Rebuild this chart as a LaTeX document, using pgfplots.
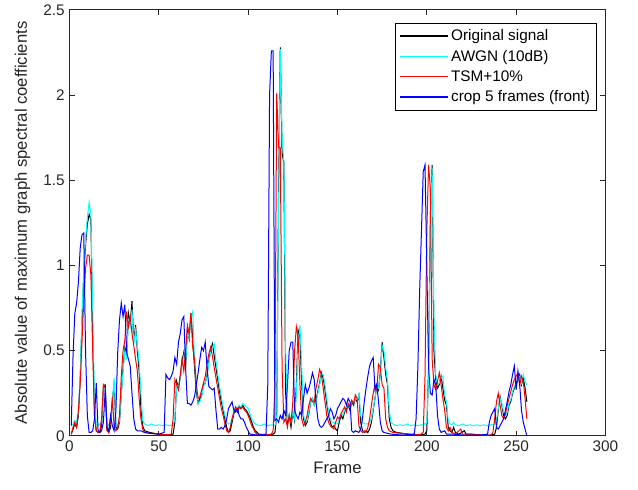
\documentclass[border=0pt]{standalone}
\usepackage{pgfplots}
\pgfplotsset{compat=1.18}
\usepackage{fontspec}
\setmainfont{Liberation Sans}
\definecolor{axgray}{rgb}{0.15,0.15,0.15}
\definecolor{mcyan}{rgb}{0,1,1}
\definecolor{mred}{rgb}{1,0,0}
\definecolor{mblue}{rgb}{0,0,1}
\begin{document}
\begin{tikzpicture}
\begin{axis}[
  name=ax,
  at={(0,0)}, anchor=south west,
  scale only axis,
  width=402pt, height=319.5pt,
  xmin=0, xmax=300, ymin=0, ymax=2.5,
  xtick={0,50,...,300},
  ytick={0,0.5,1,1.5,2,2.5},
  yticklabels={0,0.5,1,1.5,2,2.5},
  tick align=inside,
  major tick length=4pt,
  tick pos=both,
  axis line style={axgray, line width=0.6pt},
  tick style={axgray, line width=0.6pt},
  ticklabel style={font=\fontsize{11.5}{13}\selectfont, text=axgray},
  /pgf/number format/assume math mode=true,
  xlabel={Frame},
  ylabel={Absolute value of maximum graph spectral coefficients},
  label style={font=\fontsize{12.5}{14}\selectfont, text=axgray},
  xlabel style={yshift=-1pt},
  ylabel style={yshift=3pt},
  legend style={at={(1,1)}, anchor=north east, xshift=-6.4pt, yshift=-9.75pt,
    draw=black, font=\fontsize{11.5}{13}\selectfont,
    inner xsep=3pt, inner ysep=3pt, row sep=1.5pt, cells={anchor=west}},
  legend image code/.code={\draw[#1, line width=1pt] (0pt,0.3pt) -- (36pt,0.3pt);},
  every axis plot/.append style={line width=0.75pt},
]
% Original signal
\addplot[color=black] coordinates {
(1,0.01)(2,0.04)(3,0.07)(4,0.05)(5,0.12)(6,0.33)(7,0.66)(8,0.94)(9,1.12)(10,1.24)
(11,1.30)(12,1.27)(13,0.6)(14,0.12)(15,0.03)(16,0.02)(17,0.02)(18,0.06)(19,0.29)(20,0.30)
(21,0.04)(22,0.02)(23,0.05)(24,0.2)(25,0.31)(26,0.05)(27,0.04)(28,0.08)(29,0.25)(30,0.40)
(31,0.52)(32,0.47)(33,0.72)(34,0.66)(35,0.79)(36,0.55)(37,0.65)(38,0.50)(39,0.38)(40,0.16)
(41,0.06)(42,0.03)(45,0.02)(50,0.01)(55,0.005)(58,0.01)(59,0.08)(60,0.32)(61,0.28)(62,0.35)
(63,0.44)(64,0.49)(65,0.40)(66,0.62)(67,0.57)(68,0.72)(69,0.56)(70,0.40)(71,0.26)(72,0.19)
(73,0.22)(74,0.24)(75,0.30)(76,0.31)(77,0.36)(78,0.44)(79,0.50)(80,0.54)(81,0.47)(82,0.40)
(83,0.33)(84,0.26)(85,0.20)(86,0.15)(87,0.10)(88,0.05)(89,0.02)(90,0.03)(91,0.08)(92,0.13)
(93,0.16)(94,0.14)(95,0.17)(96,0.16)(97,0.18)(98,0.16)(99,0.15)(100,0.13)(101,0.11)(102,0.08)
(103,0.05)(104,0.03)(105,0.02)(106,0.01)(110,0.005)(114,0.01)(115,0.02)(116,0.12)(117,1.40)(118,2.28)
(119,1.66)(120,1.60)(121,0.25)(122,0.07)(123,0.12)(124,0.05)(125,0.14)(126,0.09)(127,0.30)(128,0.62)
(129,0.58)(130,0.30)(131,0.10)(132,0.06)(133,0.08)(134,0.13)(135,0.20)(136,0.22)(137,0.18)(138,0.21)
(139,0.26)(140,0.31)(141,0.37)(142,0.34)(143,0.27)(144,0.19)(145,0.12)(146,0.08)(147,0.05)(148,0.06)
(149,0.04)(150,0.03)(151,0.08)(152,0.12)(153,0.10)(154,0.14)(155,0.16)(156,0.18)(157,0.15)(158,0.20)
(159,0.18)(160,0.22)(161,0.20)(162,0.24)(163,0.08)(164,0.03)(165,0.02)(166,0.03)(167,0.02)(168,0.04)
(169,0.08)(170,0.15)(171,0.22)(172,0.30)(173,0.27)(174,0.38)(175,0.55)(176,0.46)(177,0.36)(178,0.30)
(179,0.10)(180,0.05)(181,0.03)(183,0.02)(190,0.01)(196,0.005)(199,0.01)(200,0.03)(201,0.40)(202,1.30)
(203,1.59)(204,0.50)(205,0.33)(206,0.28)(207,0.30)(208,0.35)(209,0.28)(210,0.21)(211,0.18)(212,0.05)
(213,0.03)(214,0.02)(215,0.05)(216,0.02)(218,0.01)(221,0.03)(222,0.01)(225,0.01)(230,0.005)(236,0.005)
(238,0.01)(239,0.05)(240,0.15)(241,0.23)(242,0.18)(243,0.12)(244,0.10)(245,0.12)(246,0.18)(247,0.20)
(248,0.25)(249,0.28)(250,0.30)(251,0.33)(252,0.36)(253,0.30)(254,0.34)(255,0.28)(256,0.20)
};
\addlegendentry{Original signal}
% AWGN
\addplot[color=mcyan] coordinates {
(1,0.06)(2,0.07)(3,0.09)(4,0.08)(5,0.14)(6,0.36)(7,0.70)(8,0.98)(9,1.15)(10,1.28)
(11,1.37)(12,1.30)(13,0.75)(14,0.2)(15,0.07)(16,0.06)(17,0.07)(18,0.08)(19,0.28)(20,0.27)
(21,0.08)(22,0.06)(23,0.07)(24,0.18)(25,0.34)(26,0.08)(27,0.06)(28,0.09)(29,0.24)(30,0.38)
(31,0.50)(32,0.46)(33,0.68)(34,0.64)(35,0.74)(36,0.54)(37,0.62)(38,0.53)(39,0.43)(40,0.25)
(41,0.09)(42,0.07)(43,0.065)(44,0.06)(46,0.07)(48,0.06)(50,0.065)(52,0.06)(54,0.065)(56,0.06)
(58,0.065)(59,0.10)(60,0.30)(61,0.29)(62,0.33)(63,0.42)(64,0.47)(65,0.42)(66,0.60)(67,0.58)
(68,0.70)(69,0.73)(70,0.45)(71,0.30)(72,0.19)(73,0.20)(74,0.23)(75,0.29)(76,0.31)(77,0.35)
(78,0.43)(79,0.49)(80,0.52)(81,0.54)(82,0.44)(83,0.36)(84,0.29)(85,0.23)(86,0.17)(87,0.12)
(88,0.08)(89,0.07)(90,0.07)(91,0.10)(92,0.14)(93,0.17)(94,0.16)(95,0.18)(96,0.17)(97,0.19)
(98,0.18)(99,0.17)(100,0.16)(101,0.13)(102,0.10)(103,0.08)(104,0.07)(105,0.065)(107,0.06)(109,0.07)
(111,0.06)(113,0.065)(115,0.06)(116,0.10)(117,1.30)(118,2.27)(119,1.75)(120,1.61)(121,0.50)(122,0.10)
(123,0.13)(124,0.08)(125,0.14)(126,0.10)(127,0.25)(128,0.55)(129,0.65)(130,0.40)(131,0.12)(132,0.08)
(133,0.09)(134,0.14)(135,0.20)(136,0.22)(137,0.18)(138,0.20)(139,0.25)(140,0.30)(141,0.36)(142,0.36)
(143,0.30)(144,0.22)(145,0.14)(146,0.10)(147,0.08)(148,0.08)(149,0.07)(150,0.07)(151,0.10)(152,0.13)
(153,0.12)(154,0.15)(155,0.17)(156,0.18)(157,0.17)(158,0.20)(159,0.19)(160,0.22)(161,0.21)(162,0.24)
(163,0.12)(164,0.08)(165,0.07)(166,0.07)(167,0.07)(168,0.08)(169,0.10)(170,0.16)(171,0.22)(172,0.29)
(173,0.28)(174,0.36)(175,0.53)(176,0.50)(177,0.40)(178,0.32)(179,0.15)(180,0.08)(181,0.07)(183,0.06)
(185,0.065)(187,0.06)(189,0.07)(191,0.06)(193,0.065)(195,0.06)(197,0.065)(199,0.07)(200,0.08)(201,0.35)
(202,1.20)(203,1.57)(204,0.70)(205,0.36)(206,0.30)(207,0.31)(208,0.34)(209,0.35)(210,0.24)(211,0.20)
(212,0.09)(213,0.07)(214,0.065)(215,0.08)(216,0.065)(218,0.06)(220,0.07)(222,0.06)(224,0.065)(226,0.06)
(228,0.065)(230,0.06)(232,0.065)(234,0.06)(236,0.065)(238,0.07)(239,0.09)(240,0.16)(241,0.22)(242,0.19)
(243,0.14)(244,0.12)(245,0.14)(246,0.19)(247,0.21)(248,0.26)(249,0.29)(250,0.31)(251,0.34)(252,0.35)
(253,0.31)(254,0.36)(255,0.32)(256,0.30)
};
\addlegendentry{AWGN (10dB)}
% TSM
\addplot[color=mred] coordinates {
(1,0.01)(2,0.05)(3,0.08)(4,0.05)(5,0.15)(6,0.31)(7,0.55)(8,0.80)(9,0.98)(10,1.06)
(11,1.06)(12,0.94)(13,0.50)(14,0.12)(15,0.03)(16,0.02)(17,0.03)(18,0.10)(19,0.30)(20,0.28)
(21,0.03)(22,0.02)(23,0.08)(24,0.23)(25,0.05)(26,0.03)(27,0.05)(28,0.12)(29,0.35)(30,0.50)
(31,0.56)(32,0.73)(33,0.64)(34,0.70)(35,0.60)(36,0.53)(37,0.45)(38,0.38)(39,0.22)(40,0.10)
(41,0.04)(42,0.02)(45,0.015)(50,0.01)(55,0.005)(57,0.01)(58,0.10)(59,0.33)(60,0.30)(61,0.27)
(62,0.35)(63,0.45)(64,0.38)(65,0.50)(66,0.65)(67,0.60)(68,0.72)(69,0.52)(70,0.45)(71,0.30)
(72,0.22)(73,0.23)(74,0.27)(75,0.31)(76,0.35)(77,0.42)(78,0.48)(79,0.52)(80,0.47)(81,0.40)
(82,0.34)(83,0.28)(84,0.22)(85,0.16)(86,0.12)(87,0.07)(88,0.03)(89,0.02)(90,0.05)(91,0.10)
(92,0.14)(93,0.17)(94,0.15)(95,0.17)(96,0.16)(97,0.17)(98,0.15)(99,0.14)(100,0.12)(101,0.09)
(102,0.06)(103,0.04)(104,0.02)(105,0.01)(110,0.005)(113,0.01)(114,0.03)(115,0.3)(116,2.01)(117,1.69)
(118,1.69)(119,0.40)(120,0.08)(121,0.10)(122,0.05)(123,0.12)(124,0.08)(125,0.20)(126,0.50)(127,0.64)
(128,0.58)(129,0.30)(130,0.10)(131,0.06)(132,0.08)(133,0.12)(134,0.18)(135,0.22)(136,0.20)(137,0.20)
(138,0.28)(139,0.33)(140,0.39)(141,0.36)(142,0.28)(143,0.20)(144,0.12)(145,0.08)(146,0.06)(147,0.05)
(148,0.04)(149,0.08)(150,0.11)(151,0.10)(152,0.13)(153,0.15)(154,0.17)(155,0.14)(156,0.19)(157,0.17)
(158,0.21)(159,0.19)(160,0.24)(161,0.22)(162,0.06)(163,0.03)(164,0.02)(165,0.03)(166,0.02)(167,0.05)
(168,0.10)(169,0.18)(170,0.25)(171,0.30)(172,0.27)(173,0.42)(174,0.40)(175,0.30)(176,0.28)(177,0.10)
(178,0.05)(179,0.03)(181,0.02)(190,0.01)(196,0.005)(198,0.02)(199,0.35)(200,1.20)(201,1.59)(202,1.45)
(203,0.45)(204,0.30)(205,0.27)(206,0.32)(207,0.37)(208,0.30)(209,0.22)(210,0.15)(211,0.05)(212,0.03)
(213,0.05)(214,0.02)(216,0.01)(219,0.04)(220,0.01)(225,0.01)(230,0.005)(236,0.005)(237,0.02)(238,0.10)
(239,0.20)(240,0.25)(241,0.18)(242,0.12)(243,0.10)(244,0.13)(245,0.18)(246,0.22)(247,0.26)(248,0.30)
(249,0.33)(250,0.35)(251,0.37)(252,0.30)(253,0.35)(254,0.32)(255,0.22)(256,0.10)
};
\addlegendentry{TSM+10\%}
% crop 5 frames
\addplot[color=mblue] coordinates {
(1,0.06)(2,0.47)(3,0.72)(4,0.78)(5,0.90)(6,1.10)(7,1.18)(8,1.19)(9,0.50)(10,0.12)
(11,0.02)(12,0.02)(13,0.03)(14,0.10)(15,0.31)(16,0.03)(17,0.02)(18,0.03)(19,0.08)(20,0.27)
(21,0.05)(22,0.03)(23,0.12)(24,0.06)(25,0.03)(26,0.15)(27,0.49)(28,0.68)(29,0.78)(30,0.70)
(31,0.77)(32,0.49)(33,0.45)(34,0.41)(35,0.25)(36,0.10)(37,0.04)(38,0.03)(40,0.03)(42,0.02)
(45,0.015)(50,0.01)(53,0.02)(54,0.36)(55,0.34)(56,0.33)(57,0.35)(58,0.38)(59,0.46)(60,0.42)
(61,0.55)(62,0.60)(63,0.68)(64,0.70)(65,0.40)(66,0.19)(67,0.19)(68,0.18)(69,0.20)(70,0.23)
(71,0.30)(72,0.37)(73,0.45)(74,0.52)(75,0.50)(76,0.55)(77,0.40)(78,0.29)(79,0.28)(80,0.27)
(81,0.28)(82,0.15)(83,0.04)(84,0.04)(85,0.05)(86,0.04)(87,0.06)(88,0.10)(89,0.16)(90,0.18)
(91,0.20)(92,0.15)(93,0.14)(94,0.16)(95,0.12)(96,0.10)(97,0.10)(98,0.08)(99,0.05)(100,0.03)
(101,0.01)(105,0.005)(110,0.01)(111,0.3)(112,2.0)(113,2.26)(114,2.26)(115,0.09)(116,0.10)(117,0.08)
(118,0.12)(119,0.10)(120,0.15)(121,0.12)(122,0.30)(123,0.50)(124,0.55)(125,0.55)(126,0.15)(127,0.12)
(128,0.10)(129,0.14)(130,0.12)(131,0.22)(132,0.30)(133,0.25)(134,0.28)(135,0.32)(136,0.37)(137,0.33)
(138,0.20)(139,0.10)(140,0.06)(141,0.05)(142,0.06)(143,0.08)(144,0.10)(145,0.12)(146,0.16)(147,0.14)
(148,0.10)(149,0.12)(150,0.16)(151,0.18)(152,0.20)(153,0.22)(154,0.21)(155,0.18)(156,0.22)(157,0.20)
(158,0.03)(159,0.02)(160,0.03)(162,0.02)(163,0.04)(164,0.10)(165,0.20)(166,0.28)(167,0.35)(168,0.41)
(169,0.44)(170,0.46)(171,0.27)(172,0.30)(173,0.20)(174,0.08)(175,0.03)(176,0.02)(180,0.01)(186,0.005)
(193,0.01)(194,0.10)(195,0.40)(196,0.85)(197,1.20)(198,1.55)(199,1.59)(200,1.00)(201,0.40)(202,0.25)
(203,0.24)(204,0.33)(205,0.30)(206,0.12)(207,0.04)(208,0.02)(210,0.03)(211,0.01)(215,0.01)(220,0.005)
(230,0.005)(234,0.01)(235,0.08)(236,0.12)(237,0.14)(238,0.16)(239,0.05)(240,0.04)(241,0.06)(242,0.08)
(243,0.10)(244,0.15)(245,0.20)(246,0.26)(247,0.30)(248,0.36)(249,0.41)(250,0.27)(251,0.38)(252,0.30)
(253,0.15)(254,0.08)(256,0.0)
};
\addlegendentry{crop 5 frames (front)}
\end{axis}
\path (ax.south west) ++(-52.1pt,-40.5pt) coordinate (bl);
\path (ax.north east) ++(24.4pt,5.25pt) coordinate (tr);
\path (bl) rectangle (tr);
\end{tikzpicture}
\end{document}
